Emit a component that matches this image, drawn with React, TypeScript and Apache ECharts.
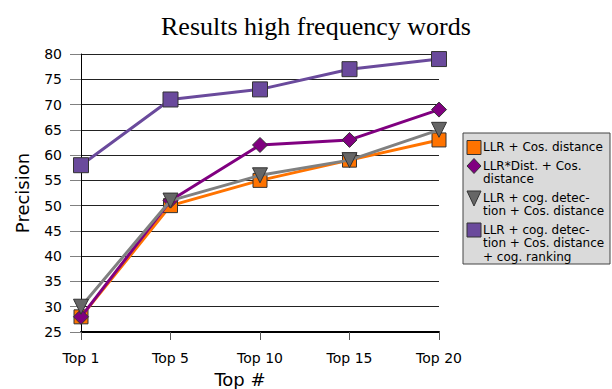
import React, { useEffect, useRef } from "react";
import * as echarts from "echarts";

const categories = ["Top 1", "Top 5", "Top 10", "Top 15", "Top 20"];
const seriesNames = [
  "LLR + Cos. distance",
  "LLR*Dist. + Cos. distance",
  "LLR + cog. detection + Cos. distance",
  "LLR + cog. detection + Cos. distance + cog. ranking",
];
const legendLabels = [
  "LLR + Cos. distance",
  "LLR*Dist. + Cos.\ndistance",
  "LLR + cog. detec-\ntion + Cos. distance",
  "LLR + cog. detec-\ntion + Cos. distance\n+ cog. ranking",
];
const llrCos = [28, 50, 55, 59, 63];
const llrDistCos = [28, 51, 62, 63, 69];
const llrCogCos = [30, 51, 56, 59, 65];
const llrCogCosRank = [58, 71, 73, 77, 79];
const seriesData = [llrCos, llrDistCos, llrCogCos, llrCogCosRank];
const lineColors = ["#ff7300", "#800080", "#808080", "#6a4a9c"];
const markerColors = ["#ff7300", "#800080", "#666666", "#6a4a9c"];
const symbols = ["rect", "diamond", "triangle", "rect"];
const symbolRotates = [0, 0, 180, 0];
const symbolSizes = [14, 15, 15, 15];

export default function App() {
  const ref = useRef<HTMLDivElement>(null);
  useEffect(() => {
    if (!ref.current) return;
    const chart = echarts.init(ref.current, undefined, { renderer: "svg" });
    const font = "DejaVu Sans";

    // legend built as graphic
    const legendChildren: any[] = [];
    const boxX = 463, boxY = 133, boxW = 147, boxH = 131;
    legendChildren.push({
      type: "rect",
      shape: { x: boxX, y: boxY, width: boxW, height: boxH },
      style: { fill: "#dadada", stroke: "#444", lineWidth: 1 },
    });
    const lh = 13.5;
    let top = 140.5;
    legendLabels.forEach((lab, i) => {
      const cx = 474, cy = top + 7;
      const fill = markerColors[i];
      const st = { fill, stroke: "#333", lineWidth: 1 };
      if (symbols[i] === "rect") {
        legendChildren.push({ type: "rect", shape: { x: cx - 7, y: cy - 7, width: 14, height: 14 }, style: st });
      } else if (symbols[i] === "diamond") {
        legendChildren.push({ type: "polygon", shape: { points: [[cx, cy - 7.5], [cx + 7, cy], [cx, cy + 7.5], [cx - 7, cy]] }, style: st });
      } else {
        legendChildren.push({ type: "polygon", shape: { points: [[cx - 7, cy - 7], [cx + 7, cy - 7], [cx, cy + 8]] }, style: st });
      }
      legendChildren.push({
        type: "text",
        x: 483,
        y: top,
        style: { text: lab, fontFamily: font, fontSize: 12, lineHeight: lh, fill: "#000", verticalAlign: "top", align: "left" },
      });
      const lines = lab.split("\n").length;
      top += lines * lh + 5;
    });

    chart.setOption({
      animation: false,
      backgroundColor: "#fff",
      title: {
        text: "Results high frequency words",
        left: 156,
        top: 8,
        textStyle: { fontFamily: "Liberation Serif", fontSize: 26, fontWeight: "normal", color: "#000" },
      },
      grid: { left: 81, right: 173, top: 54, bottom: 57, containLabel: false, outerBoundsMode: "none" },
      xAxis: {
        type: "category",
        data: categories,
        boundaryGap: false,
        name: "Top #",
        nameLocation: "middle",
        nameGap: 38,
        nameTextStyle: { fontFamily: font, fontSize: 18, color: "#000", padding: [0, 40, 0, 0] },
        axisLine: { show: true, lineStyle: { color: "#000", width: 2 } },
        axisTick: { show: true, alignWithLabel: true, length: 8, lineStyle: { color: "#555", width: 1 } },
        axisLabel: { fontFamily: font, fontSize: 14, color: "#000", margin: 19 },
        splitLine: { show: false },
      },
      yAxis: {
        type: "value",
        min: 25,
        max: 80,
        interval: 5,
        name: "Precision",
        nameLocation: "middle",
        nameRotate: 90,
        nameGap: 50,
        nameTextStyle: { fontFamily: font, fontSize: 18, color: "#000" },
        axisLine: { show: true, lineStyle: { color: "#000", width: 1 } },
        axisTick: { show: true, length: 11, lineStyle: { color: "#808080", width: 1 } },
        axisLabel: { fontFamily: font, fontSize: 14, color: "#000", margin: 19 },
        splitLine: { show: true, lineStyle: { color: "#222", width: 1 } },
      },
      series: seriesNames.map((name, i) => ({
        name,
        type: "line",
        data: seriesData[i],
        symbol: symbols[i],
        symbolSize: symbolSizes[i],
        symbolRotate: symbolRotates[i],
        showAllSymbol: true,
        lineStyle: { color: lineColors[i], width: 3 },
        itemStyle: { color: markerColors[i], borderColor: "#333", borderWidth: 1 },
        emphasis: { disabled: true },
        z: 2 + i,
      })),
      graphic: legendChildren,
    });
    return () => chart.dispose();
  }, []);
  return <div ref={ref} style={{ width: 612, height: 389, position: "absolute", left: 0, top: 0 }} />;
}
